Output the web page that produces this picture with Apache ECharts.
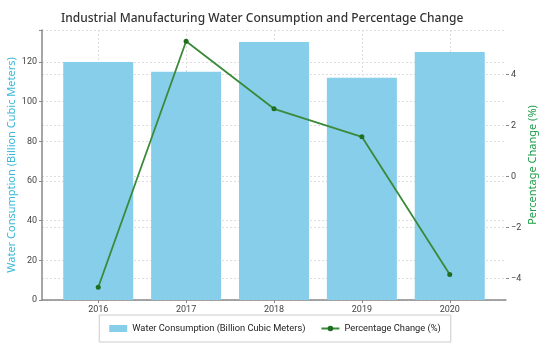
<!DOCTYPE html>
<html>
<head>
<meta charset="utf-8">
<script src="https://cdn.jsdelivr.net/npm/echarts@6/dist/echarts.min.js"></script>
<style>
    html, body { margin: 0; padding: 0; background: #fff; }
    #chart { width: 550px; height: 350px; }
</style>
</head>
<body>
<div id="chart"></div>
<script>
// data
var years = ['2016', '2017', '2018', '2019', '2020']
var water = [120, 115, 130, 112, 125]
var pctChange = [-4.35, 5.3, 2.65, 1.55, -3.85]
var leftTicks = [0, 20, 40, 60, 80, 100, 120]
var rightTicks = [-4, -2, 0, 2, 4]

var idx = years.map(function (y, i) { return i })
var barData = water.map(function (v, i) { return [i, v] })
var lineData = pctChange.map(function (v, i) { return [i, v] })

var gridLine = { show: true, lineStyle: { color: '#ddd', type: [2, 2], width: 1 } }
var font = 'Noto Sans'

var chart = echarts.init(document.getElementById('chart'))
chart.setOption({
    animation: false,
    textStyle: { fontFamily: font },
    title: {
        text: 'Industrial Manufacturing Water Consumption and Percentage Change',
        left: 56,
        top: 8,
        textStyle: { fontSize: 12, fontWeight: 500, color: '#333', fontFamily: font }
    },
    grid: { left: 42, right: 44, top: 30, bottom: 50, outerBoundsMode: 'none' },
    legend: {
        bottom: 8,
        left: 'center',
        itemGap: 15,
        padding: [9, 10],
        borderColor: '#ccc',
        borderWidth: 1,
        itemWidth: 18,
        itemHeight: 7,
        textStyle: { fontSize: 9.3, color: '#222', fontFamily: 'Roboto' },
        data: [
            { name: 'Water Consumption (Billion Cubic Meters)', icon: 'rect' },
            { name: 'Percentage Change (%)' }
        ]
    },
    xAxis: {
        type: 'value',
        min: -0.64,
        max: 4.64,
        axisLine: { show: true, onZero: false, lineStyle: { color: '#888', width: 1.5 } },
        axisTick: { show: true, customValues: idx, length: 3, lineStyle: { color: '#888' } },
        axisLabel: {
            customValues: idx,
            color: '#444',
            fontSize: 9,
            fontFamily: 'Roboto',
            margin: 5,
            formatter: function (v) { return years[Math.round(v)] }
        },
        splitLine: gridLine
    },
    yAxis: [{
        type: 'value',
        min: 0,
        max: 136.1,
        interval: 20,
        name: 'Water Consumption (Billion Cubic Meters)',
        nameLocation: 'middle',
        nameGap: 25,
        nameMoveOverlap: false,
        nameTextStyle: { color: '#3bb8d9', fontSize: 11 },
        axisLine: { show: true, onZero: false, lineStyle: { color: '#888', width: 1.5 } },
        axisTick: { show: true, length: 3, lineStyle: { color: '#888' } },
        axisLabel: {
            color: '#444', fontSize: 9, fontFamily: 'Roboto', margin: 5,
            formatter: function (v) { return leftTicks.indexOf(v) >= 0 ? v : '' }
        },
        splitLine: gridLine
    }, {
        type: 'value',
        min: -4.85,
        max: 5.74,
        name: 'Percentage Change (%)',
        nameLocation: 'middle',
        nameGap: 21,
        nameRotate: 90,
        nameMoveOverlap: false,
        nameTextStyle: { color: '#1e9e4a', fontSize: 11 },
        axisLine: { show: false, onZero: false },
        axisTick: { show: true, customValues: rightTicks, length: 3, lineStyle: { color: '#888' } },
        axisLabel: {
            customValues: rightTicks,
            color: '#444', fontSize: 9, fontFamily: 'Roboto', margin: 5,
            formatter: function (v) { return v < 0 ? '\u2212' + Math.abs(v) : String(v) }
        },
        splitLine: gridLine
    }],
    series: [{
        name: 'Water Consumption (Billion Cubic Meters)',
        type: 'bar',
        barWidth: 70,
        itemStyle: { color: '#87ceeb' },
        data: barData
    }, {
        name: 'Percentage Change (%)',
        type: 'line',
        yAxisIndex: 1,
        symbol: 'circle',
        symbolSize: 5,
        lineStyle: { color: '#3a8a3a', width: 1.8 },
        itemStyle: { color: '#1f6e1f' },
        data: lineData
    }]
})
</script>
</body>
</html>
